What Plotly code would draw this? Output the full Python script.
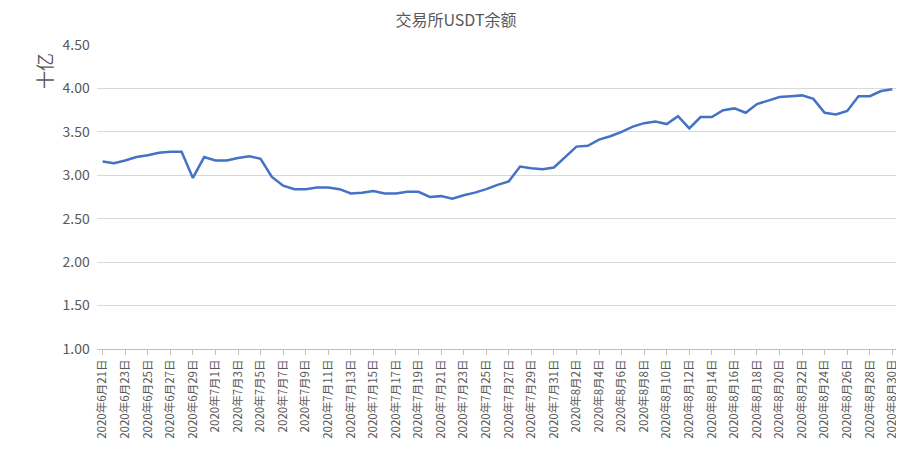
import pandas as pd
import plotly.graph_objects as go

dates = pd.date_range("2020-06-21", "2020-08-30", freq="D")
labels = [f"{d.year}年{d.month}月{d.day}日" for d in dates]
values = [3.16, 3.14, 3.17, 3.21, 3.23, 3.26, 3.27, 3.27, 2.97, 3.21,
          3.17, 3.17, 3.20, 3.22, 3.19, 2.98, 2.88, 2.84, 2.84, 2.86,
          2.86, 2.84, 2.79, 2.80, 2.82, 2.79, 2.79, 2.81, 2.81, 2.75,
          2.76, 2.73, 2.77, 2.80, 2.84, 2.89, 2.93, 3.10, 3.08, 3.07,
          3.09, 3.21, 3.33, 3.34, 3.41, 3.45, 3.50, 3.56, 3.60, 3.62,
          3.59, 3.68, 3.54, 3.67, 3.67, 3.75, 3.77, 3.72, 3.82, 3.86,
          3.90, 3.91, 3.92, 3.88, 3.72, 3.70, 3.74, 3.91, 3.91, 3.97,
          3.99]

font = "Noto Sans CJK SC"
idx = list(range(len(labels)))
fig = go.Figure(go.Scatter(x=idx, y=values, mode="lines",
                           line=dict(color="#4472C4", width=2.5)))
fig.update_layout(
    title=dict(text="交易所USDT余额", x=0.5, y=0.985,
               font=dict(family=font, size=16, color="#595959")),
    width=896, height=454, showlegend=False,
    paper_bgcolor="white", plot_bgcolor="white",
    margin=dict(l=89, r=6, t=37, b=113, autoexpand=False),
    font=dict(family=font, color="#595959", size=13),
)
fig.add_annotation(text="十亿", xref="paper", yref="paper", x=-0.085, y=0.98,
                   textangle=-90, showarrow=False, font=dict(size=18))
fig.update_xaxes(tickvals=idx[::2], ticktext=labels[::2], tickangle=-90,
                 range=[-0.5, len(labels) - 0.5],
                 showline=True, linecolor="#bfbfbf", ticks="outside",
                 tickcolor="#bfbfbf", ticklen=5, showgrid=False,
                 zeroline=False, tickfont=dict(size=11.5))
fig.update_yaxes(range=[1.0, 4.5], dtick=0.5, tickformat=".2f",
                 gridcolor="#d9d9d9", zeroline=False,
                 tickfont=dict(size=14), ticksuffix="  ")
fig.write_html("out.html")
